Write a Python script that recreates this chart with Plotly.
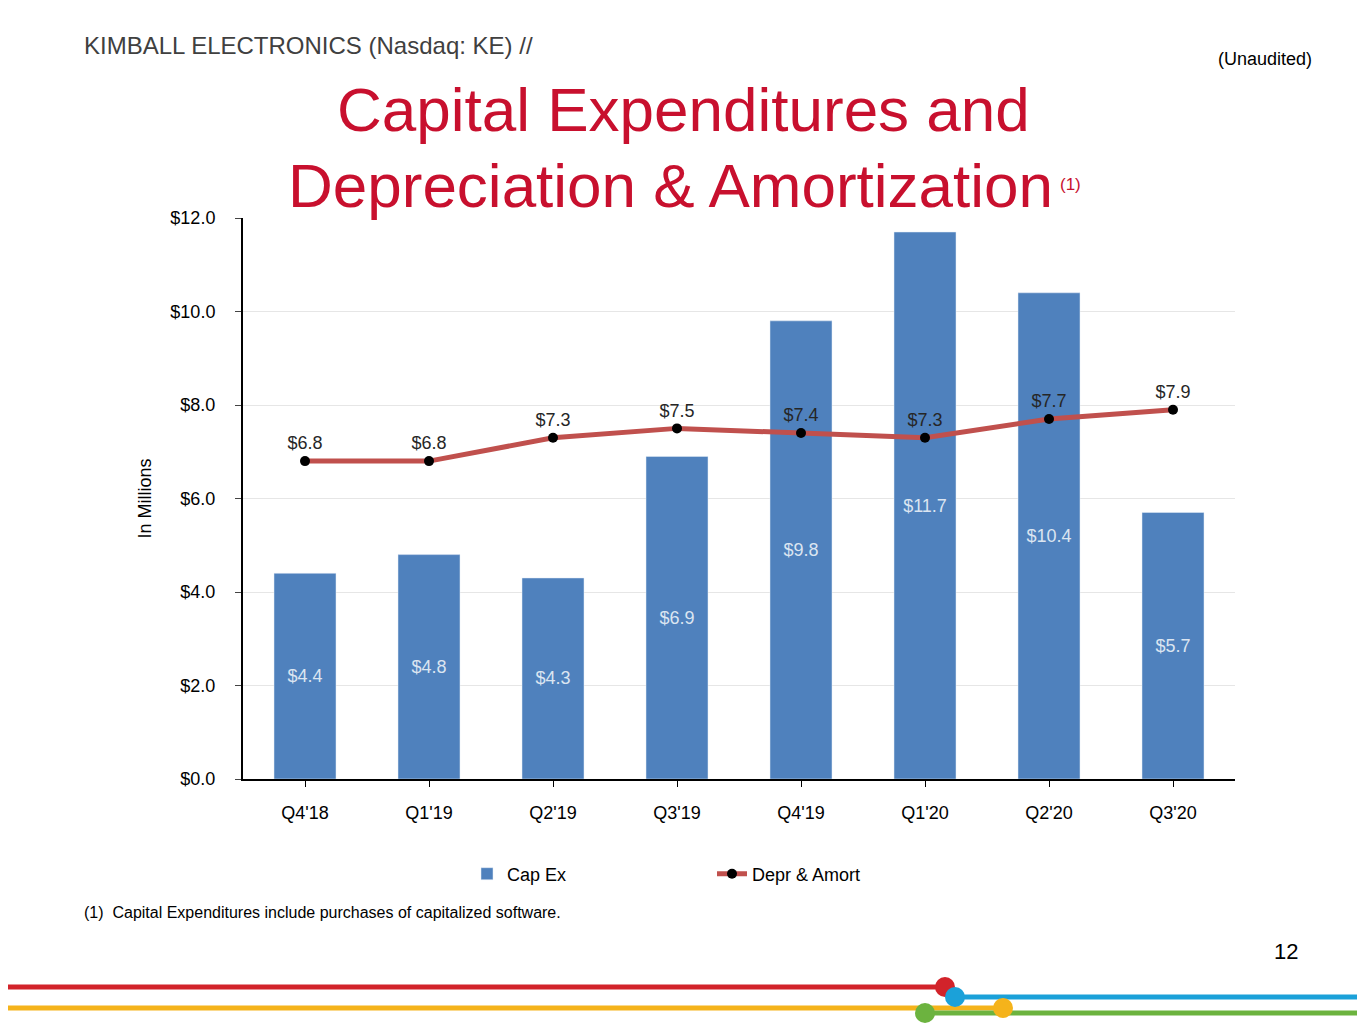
import plotly.graph_objects as go

quarters = ["Q4'18", "Q1'19", "Q2'19", "Q3'19", "Q4'19", "Q1'20", "Q2'20", "Q3'20"]
capex = [4.4, 4.8, 4.3, 6.9, 9.8, 11.7, 10.4, 5.7]
depr = [6.8, 6.8, 7.3, 7.5, 7.4, 7.3, 7.7, 7.9]
y_ticks = [0, 2, 4, 6, 8, 10, 12]

# page draws the figure with an 8px offset, so shift everything back
OFF = 8
W, H = 1365, 1024
L, R, T, B = 243 - OFF, 1235 - OFF, 218 - OFF, 779 - OFF


def px(x):
    return (x - OFF - L) / (R - L)


def py(y):
    return (B - (y - OFF)) / (B - T)


fig = go.Figure()
fig.add_bar(x=quarters, y=capex, name="Cap Ex", marker_color="#4f81bd", width=0.5,
            text=[f"${v:.1f}" for v in capex], textposition="inside", insidetextanchor="middle",
            textfont=dict(color="#dbe5f1", size=18), cliponaxis=False)
fig.add_scatter(x=quarters, y=depr, name="Depr & Amort", mode="lines+markers+text",
                line=dict(color="#c0504d", width=5), marker=dict(color="black", size=10),
                text=[f"${v:.1f}" for v in depr], textposition="top center",
                textfont=dict(color="#262626", size=18))

shapes = [
    dict(type="line", xref="paper", yref="paper", x0=px(0), x1=px(945), y0=py(987), y1=py(987),
         line=dict(color="#d2232a", width=5)),
    dict(type="line", xref="paper", yref="paper", x0=px(955), x1=px(1360), y0=py(997), y1=py(997),
         line=dict(color="#1ba1d9", width=5)),
    dict(type="line", xref="paper", yref="paper", x0=px(0), x1=px(1003), y0=py(1008), y1=py(1008),
         line=dict(color="#f5b31b", width=5)),
    dict(type="line", xref="paper", yref="paper", x0=px(925), x1=px(1360), y0=py(1013), y1=py(1013),
         line=dict(color="#6cb33f", width=5)),
]
for cx, cy, col in [(945, 987, "#d2232a"), (955, 997, "#1ba1d9"), (1003, 1008, "#f5b31b"), (925, 1013, "#6cb33f")]:
    shapes.append(dict(type="circle", xref="paper", yref="paper", x0=px(cx - 10), x1=px(cx + 10),
                       y0=py(cy - 10), y1=py(cy + 10), fillcolor=col, line=dict(width=0)))

ann = [
    dict(text="KIMBALL ELECTRONICS (Nasdaq: KE) //", x=px(82), y=py(46), xanchor="left",
         font=dict(size=24, color="#404040")),
    dict(text="(Unaudited)", x=px(1314), y=py(59), xanchor="right", font=dict(size=18, color="black")),
    dict(text="Capital Expenditures and", x=px(683), y=py(110), xanchor="center",
         font=dict(size=62, color="#c8102e")),
    dict(text="Depreciation & Amortization", x=px(670), y=py(186), xanchor="center",
         font=dict(size=62, color="#c8102e")),
    dict(text="(1)", x=px(1058), y=py(184), xanchor="left", font=dict(size=17, color="#c8102e")),
    dict(text="(1)  Capital Expenditures include purchases of capitalized software.", x=px(82), y=py(912),
         xanchor="left", font=dict(size=16, color="black")),
    dict(text="12", x=px(1300), y=py(951), xanchor="right", font=dict(size=22, color="black")),
]
for a in ann:
    a.update(xref="paper", yref="paper", showarrow=False, yanchor="middle")

fig.update_layout(
    width=W, height=H, margin=dict(l=L, r=W - R, t=T, b=H - B),
    plot_bgcolor="white", paper_bgcolor="white",
    font=dict(family="Liberation Sans, Arial", size=18, color="black"),
    showlegend=True,
    legend=dict(orientation="h", x=px(712), xanchor="center", y=py(874), yanchor="middle",
                font=dict(size=18), tracegroupgap=0, entrywidth=200),
    shapes=shapes, annotations=ann, bargap=0.5,
)
fig.update_xaxes(showline=True, linecolor="black", linewidth=2, ticks="outside", ticklen=6,
                 tickcolor="black", ticklabelstandoff=10)
fig.update_yaxes(range=[0, 12], tickvals=y_ticks, ticktext=[f"${v:.1f}" for v in y_ticks],
                 showline=True, linecolor="black", linewidth=2, ticks="outside", ticklen=6,
                 gridcolor="#e6e6e6", zeroline=False, ticklabelstandoff=16,
                 title=dict(text="In Millions", font=dict(size=18), standoff=14))

fig.write_html("out.html")
